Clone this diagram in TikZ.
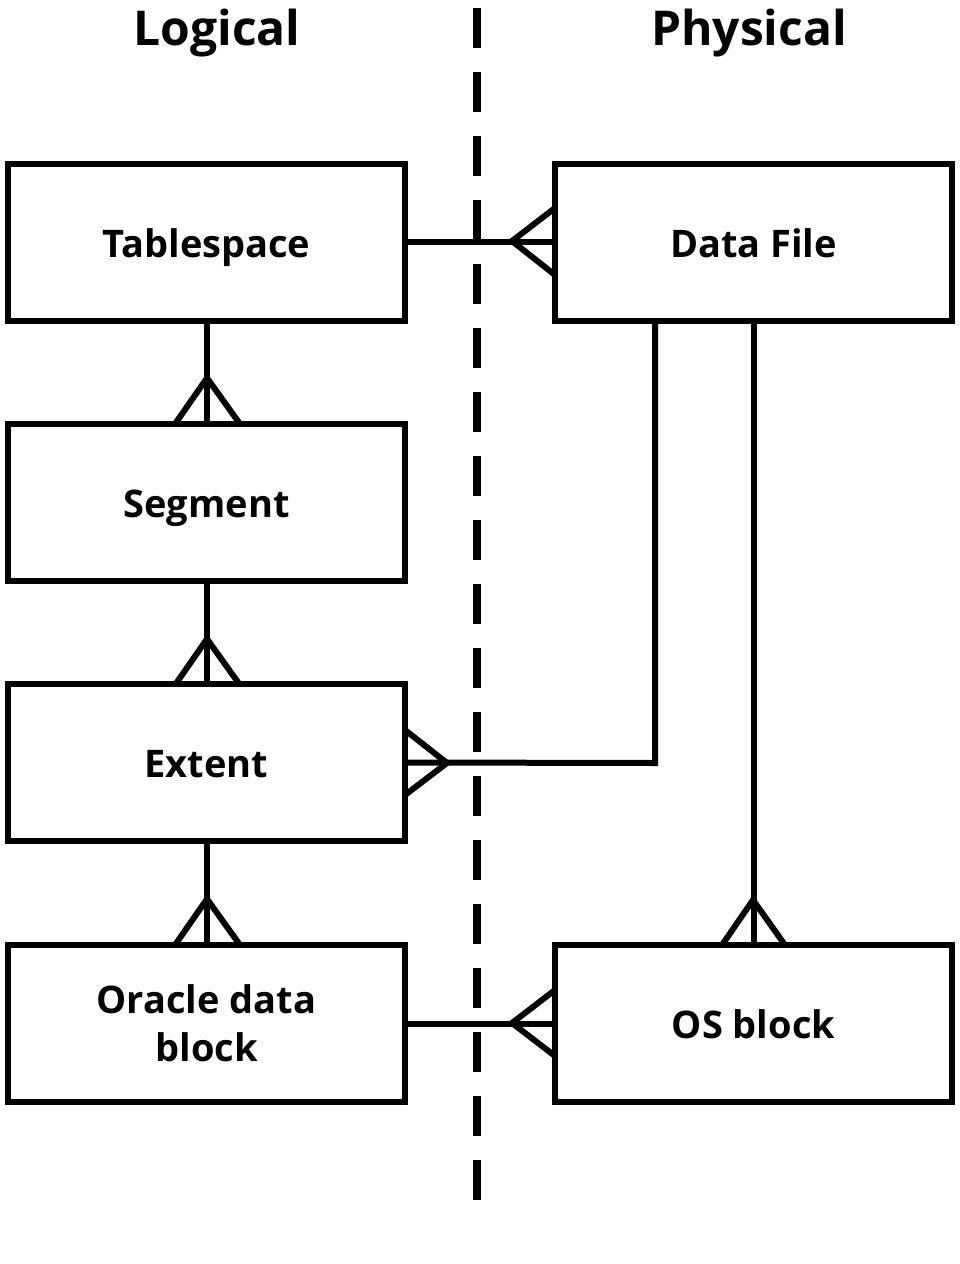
\documentclass[tikz,border=0pt]{standalone}
\usepackage{fontspec}
\setmainfont{Open Sans}
\begin{document}
\begin{tikzpicture}[x=1pt,y=-1pt,line width=6pt,
 box/.style={draw,minimum width=397pt,minimum height=157pt,inner sep=0pt,font=\bfseries\fontsize{38}{48}\selectfont,align=center},
 one/.style={text height=36pt,text depth=6pt},
 ttl/.style={font=\bfseries\fontsize{48}{52}\selectfont}]
\useasboundingbox (0,0) rectangle (960,1264);
\node[box,one] (ts) at (206.5,242) {Tablespace};
\node[box,one] (sg) at (206.5,502) {Segment};
\node[box,one] (ex) at (206.5,762.5) {Extent};
\node[box] (ob) at (206.5,1023.5) {Oracle data\\block};
\node[box,one] (df) at (753.5,242) {Data File};
\node[box,one] (os) at (753.5,1023.5) {OS block};
\node[ttl] (l) at (217,33) {Logical};
\node[ttl] (p) at (749,33) {Physical};
\coordinate (dt) at (477,8); \coordinate (db) at (477,1205);
\draw[line width=8pt,dash pattern=on 40pt off 24pt] (dt) -- (db);
\draw (ts.east) -- (df.west);
\draw (555,208) -- (512,241) -- (555,275);
\draw (ts.south) -- (sg.north);
\draw (175,424) -- (207,378) -- (240,424);
\draw (sg.south) -- (ex.north);
\draw (175,685) -- (207,639) -- (240,685);
\draw (ex.south) -- (ob.north);
\draw (175,945) -- (207,899) -- (240,945);
\coordinate (c1) at (655,321); \coordinate (c2) at (655,763);
\draw (c1) -- (c2) -- (ex.east);
\draw (405,730) -- (447,763) -- (405,795);
\draw (df.south) -- (os.north);
\draw (722,945) -- (753,900) -- (785,945);
\draw (ob.east) -- (os.west);
\draw (555,990) -- (512,1023) -- (555,1056);
\end{tikzpicture}
\end{document}
